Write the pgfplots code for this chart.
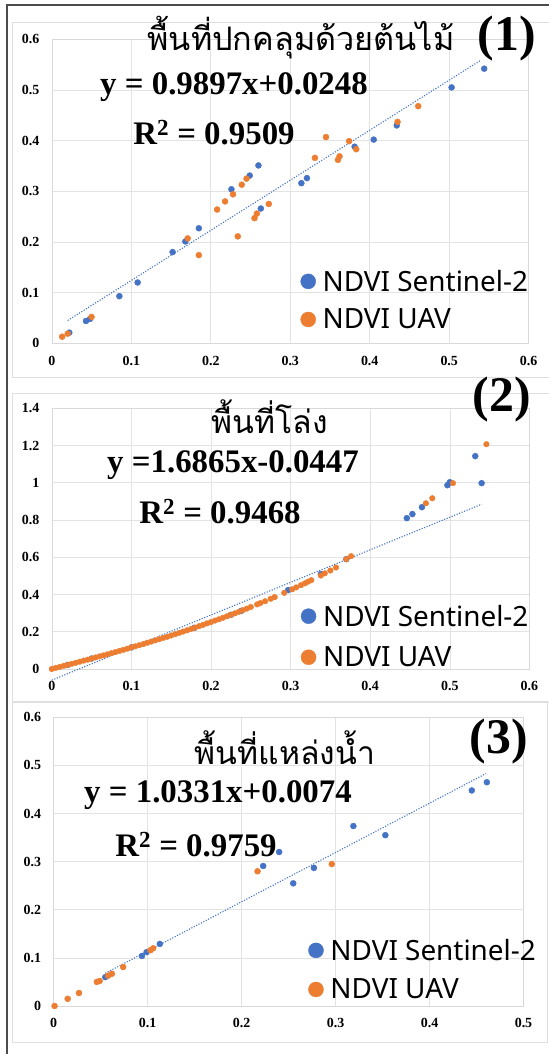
\documentclass[border=0pt]{standalone}
\usepackage{fontspec}
\setmainfont{Liberation Serif}
\newfontfamily\thaifont[Script=Thai]{Loma}
\newfontfamily\legfont{Noto Sans}
\usepackage{pgfplots}
\pgfplotsset{compat=1.18}
\definecolor{sblue}{HTML}{4472C4}
\definecolor{uorange}{HTML}{ED7D31}

\pgfplotsset{
  panel/.style={
    scale only axis, anchor=south west,
    xmin=0, ymin=0,
    grid=major, grid style={draw=gray!22, line width=0.6bp},
    axis line style={draw=gray!30, line width=0.6bp},
    major tick length=0pt, tick style={draw=none},
    /pgf/number format/fixed,
    /pgf/number format/assume math mode=true,
    ticklabel style={font=\fontsize{14}{14}\selectfont\bfseries},
    xticklabel style={yshift=-9bp},
    yticklabel style={xshift=-9bp},
    legend style={draw=none, fill=none, inner sep=0pt,
      font=\legfont\fontsize{28}{28}\selectfont, row sep=12bp, column sep=5bp,
      cells={anchor=west}, anchor=west},
    legend image code/.code={\draw[#1, mark size=7.5bp] plot coordinates {(0bp,0bp)};},
  },
  sent/.style={only marks, mark=*, mark size=3bp, color=sblue},
  uav/.style={only marks, mark=*, mark size=3bp, color=uorange},
  trend/.style={sblue, line width=1.1bp, dash pattern=on 1.1bp off 1.6bp, forget plot},
}

\begin{document}
\begin{tikzpicture}
\useasboundingbox (0,0) rectangle (549bp,1054bp);
\fill[white] (0,0) rectangle (549bp,1054bp);

% frames (pixel coordinates, y downwards)
\begin{scope}[x=1bp, y=-1bp, shift={(0,1054bp)}]
  \draw[gray!25, line width=0.8bp] (12,22) rectangle (560,377);
  \draw[gray!25, line width=0.8bp] (12,393) rectangle (560,702);
  \draw[gray!25, line width=0.8bp] (12,701) rectangle (547,1042);
  \draw[black!70, line width=1.2bp] (7,1060) -- (7,5) -- (560,5);
\end{scope}

% (1) tree cover
\begin{axis}[panel, at={(51.8bp,710.7bp)}, width=476.9bp, height=304bp,
  xmax=0.6, ymax=0.6, xtick={0,0.1,...,0.6}, ytick={0,0.1,...,0.6},
  legend style={at={(axis description cs:0.5215,0.142)}}]
  \addplot[trend] coordinates {(0.02,0.045) (0.54,0.559)};
  \addplot[sent] coordinates {
    (0.544,0.542) (0.503,0.505) (0.434,0.430) (0.405,0.402) (0.381,0.388)
    (0.260,0.351) (0.249,0.331) (0.321,0.326) (0.314,0.316) (0.226,0.304)
    (0.263,0.266) (0.185,0.227) (0.168,0.201) (0.152,0.180) (0.108,0.120)
    (0.085,0.093) (0.043,0.044) (0.048,0.048) (0.022,0.021)
  };
  \addplot[uav] coordinates {
    (0.461,0.468) (0.435,0.437) (0.345,0.407) (0.374,0.399) (0.383,0.383)
    (0.362,0.369) (0.360,0.362) (0.331,0.366) (0.245,0.325) (0.239,0.313)
    (0.228,0.294) (0.218,0.280) (0.208,0.264) (0.273,0.275) (0.258,0.256)
    (0.255,0.247) (0.234,0.211) (0.171,0.207) (0.185,0.174) (0.050,0.052)
    (0.020,0.019) (0.013,0.013)
  };
  \legend{NDVI Sentinel-2, NDVI UAV}
\end{axis}

% (2) open area
\begin{axis}[panel, at={(51.8bp,385bp)}, width=477.6bp, height=260.7bp,
  xmax=0.6, ymax=1.4, xtick={0,0.1,...,0.6}, ytick={0,0.2,...,1.4}, clip=false,
  legend style={at={(axis description cs:0.5215,0.125)}, row sep=15bp}]
  \addplot[trend] coordinates {(0,-0.06) (0.54,0.885)};
  \addplot[sent] coordinates {
    (0.020,0.022) (0.050,0.056) (0.100,0.116) (0.179,0.221) (0.225,0.291)
    (0.238,0.312) (0.297,0.424) (0.338,0.510) (0.370,0.590)
    (0.446,0.810) (0.453,0.832) (0.465,0.869) (0.497,0.987) (0.500,1.003)
    (0.532,1.143) (0.540,0.998)
  };
  \addplot[uav, mark size=2.8bp] coordinates {
    (0.000,0.000) (0.005,0.006) (0.010,0.011) (0.015,0.017) (0.020,0.022)
    (0.025,0.028) (0.030,0.033) (0.035,0.039) (0.040,0.045) (0.045,0.050)
    (0.050,0.056) (0.055,0.062) (0.060,0.068) (0.065,0.073) (0.070,0.079)
    (0.075,0.085) (0.080,0.091) (0.085,0.097) (0.090,0.103) (0.095,0.109)
    (0.100,0.116) (0.105,0.122) (0.110,0.128) (0.115,0.134) (0.120,0.141)
    (0.125,0.147) (0.130,0.154) (0.135,0.160) (0.140,0.167) (0.145,0.173)
    (0.150,0.180) (0.155,0.187) (0.160,0.194) (0.165,0.201) (0.170,0.208)
    (0.175,0.215) (0.180,0.222) (0.185,0.230) (0.190,0.237) (0.195,0.245)
    (0.200,0.252) (0.205,0.260) (0.210,0.267) (0.215,0.275) (0.220,0.283)
    (0.225,0.291) (0.230,0.299) (0.235,0.307) (0.240,0.316) (0.245,0.324)
    (0.250,0.333) (0.258,0.347) (0.262,0.354) (0.268,0.364) (0.275,0.377)
    (0.280,0.386) (0.292,0.409) (0.302,0.428) (0.307,0.438) (0.313,0.450)
    (0.318,0.460) (0.322,0.469) (0.326,0.477) (0.338,0.502) (0.343,0.514)
    (0.350,0.529) (0.357,0.545) (0.370,0.590) (0.376,0.606)
    (0.470,0.890) (0.478,0.917) (0.504,0.998) (0.546,1.207)
  };
  \legend{NDVI Sentinel-2, NDVI UAV}
\end{axis}

% (3) water body
\begin{axis}[panel, at={(53.6bp,48bp)}, width=469.9bp, height=288.7bp,
  xmax=0.5, ymax=0.6, xtick={0,0.1,...,0.5}, ytick={0,0.1,...,0.6},
  legend style={at={(axis description cs:0.542,0.126)}, row sep=13bp}]
  \addplot[trend] coordinates {(0.055,0.068) (0.460,0.483)};
  \addplot[sent] coordinates {
    (0.461,0.465) (0.445,0.448) (0.319,0.374) (0.353,0.355) (0.240,0.320)
    (0.223,0.291) (0.277,0.287) (0.255,0.255) (0.113,0.129) (0.099,0.112)
    (0.094,0.104) (0.055,0.060)
  };
  \addplot[uav] coordinates {
    (0.296,0.295) (0.217,0.280) (0.106,0.120) (0.103,0.116) (0.074,0.081)
    (0.062,0.067) (0.058,0.063) (0.049,0.052) (0.046,0.050) (0.027,0.027)
    (0.015,0.015) (0.001,0.000)
  };
  \legend{NDVI Sentinel-2, NDVI UAV}
\end{axis}

% titles and equations
\begin{scope}[x=1bp, y=-1bp, shift={(0,1054bp)}]
  \node[inner sep=0] at (301,38) {\thaifont\fontsize{32.5}{32.5}\selectfont พื้นที่ปกคลุมด้วยต้นไม้};
  \node[inner sep=0] at (507,39) {\fontsize{50}{50}\selectfont\bfseries (1)};
  \node[inner sep=0] at (234,87) {\fontsize{33}{33}\selectfont\bfseries y = 0.9897x+0.0248};
  \node[inner sep=0] at (214,133) {\fontsize{33}{33}\selectfont\bfseries R\textsuperscript{2} = 0.9509};

  \node[inner sep=0] at (270,417) {\thaifont\fontsize{32}{32}\selectfont พื้นที่โล่ง};
  \node[inner sep=0] at (502,400) {\fontsize{50}{50}\selectfont\bfseries (2)};
  \node[inner sep=0] at (233,465) {\fontsize{33}{33}\selectfont\bfseries y =1.6865x-0.0447};
  \node[inner sep=0] at (220,512) {\fontsize{33}{33}\selectfont\bfseries R\textsuperscript{2} = 0.9468};

  \node[inner sep=0] at (285,748) {\thaifont\fontsize{32}{32}\selectfont พื้นที่แหล่งน้ำ};
  \node[inner sep=0] at (499,742) {\fontsize{50}{50}\selectfont\bfseries (3)};
  \node[inner sep=0] at (218,795) {\fontsize{33}{33}\selectfont\bfseries y = 1.0331x+0.0074};
  \node[inner sep=0] at (196,845) {\fontsize{33}{33}\selectfont\bfseries R\textsuperscript{2} = 0.9759};
\end{scope}
\end{tikzpicture}
\end{document}
